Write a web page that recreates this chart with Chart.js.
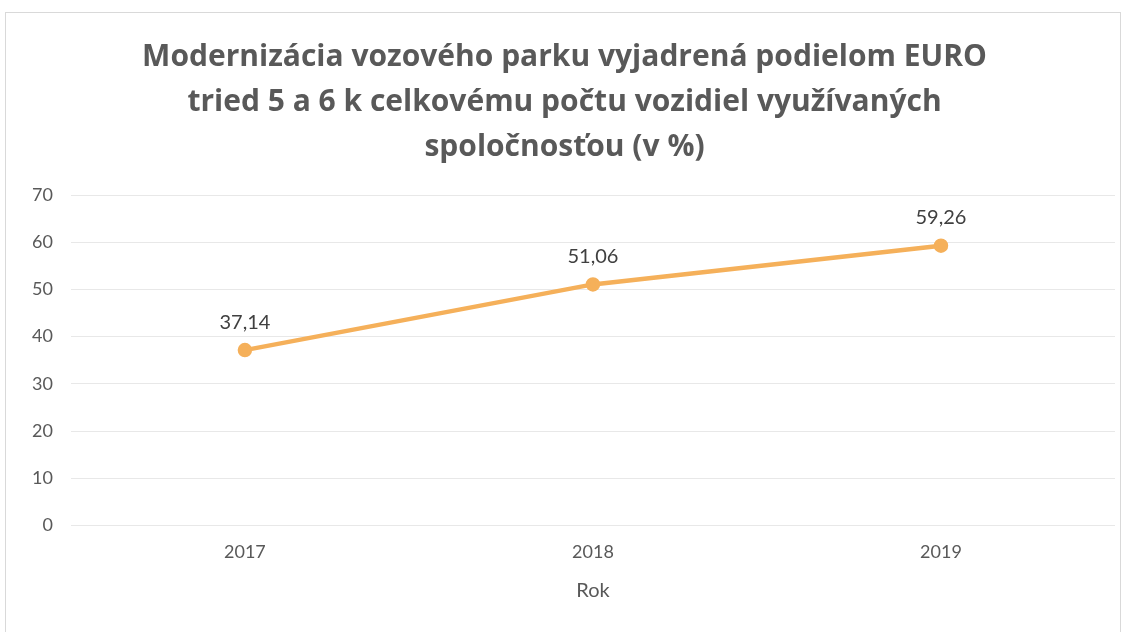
<!DOCTYPE html>
<html>
<head>
<meta charset="utf-8">
<script src="https://cdn.jsdelivr.net/npm/chart.js@4.4.1/dist/chart.umd.min.js"></script>
<style>
  html, body { margin: 0; padding: 0; background: #fff; }
  #wrap { position: relative; width: 1127px; height: 632px; overflow: hidden; }
  #frame { position: absolute; left: 5px; top: 12px; width: 1114px; height: 640px; border: 1px solid #d9d9d9; }
  canvas { position: absolute; left: 0; top: 0; }
</style>
</head>
<body>
<div id="wrap">
  <div id="frame"></div>
  <canvas id="chart" width="1127" height="632"></canvas>
</div>
<script>
// Roky a podiel EURO 5 a 6 (v %)
const years = ["2017", "2018", "2019"];
const shares = [37.14, 51.06, 59.26];
const titleLines = [
  "Modernizácia vozového parku vyjadrená podielom EURO",
  "tried 5 a 6 k celkovému počtu vozidiel využívaných",
  "spoločnosťou (v %)"
];

const fontFam = "Lato, 'Open Sans', sans-serif";
const titleFam = "'Open Sans', Lato, sans-serif";
const textGray = "#595959";

// popisky hodnôt nad bodmi
const valueLabels = {
  id: "valueLabels",
  afterDatasetsDraw(chart) {
    const ctx = chart.ctx;
    const meta = chart.getDatasetMeta(0);
    ctx.save();
    ctx.font = "20px " + fontFam;
    ctx.fillStyle = "#404040";
    ctx.textAlign = "center";
    ctx.textBaseline = "middle";
    meta.data.forEach((pt, i) => {
      ctx.fillText(shares[i].toFixed(2).replace(".", ","), pt.x, pt.y - 28);
    });
    ctx.restore();
  }
};

new Chart(document.getElementById("chart"), {
  type: "line",
  data: {
    labels: years,
    datasets: [{
      data: shares,
      borderColor: "#f5b05a",
      backgroundColor: "#f5b05a",
      borderWidth: 4.5,
      pointRadius: 5,
      pointHoverRadius: 5,
      tension: 0
    }]
  },
  options: {
    responsive: false,
    animation: false,
    layout: { padding: { left: 14, right: 12, top: 0, bottom: 25 } },
    plugins: {
      legend: { display: false },
      tooltip: { enabled: false },
      title: {
        display: true,
        text: titleLines,
        color: textGray,
        font: { family: titleFam, size: 30, weight: "bold", lineHeight: 1.5 },
        padding: { top: 35, bottom: 25 }
      }
    },
    scales: {
      x: {
        offset: true,
        grid: { display: false },
        border: { display: false },
        ticks: { color: textGray, font: { family: fontFam, size: 18 }, padding: 8 },
        title: { display: true, text: "Rok", color: textGray, font: { family: fontFam, size: 20 }, padding: { top: 8 } }
      },
      y: {
        min: 0,
        max: 70,
        ticks: { stepSize: 10, color: textGray, font: { family: fontFam, size: 18 }, padding: 18 },
        grid: { color: "#e8e8e8", drawTicks: false, lineWidth: 1 },
        border: { display: false }
      }
    }
  },
  plugins: [valueLabels]
});
</script>
</body>
</html>
